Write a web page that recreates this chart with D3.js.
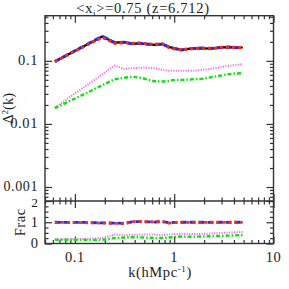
<!DOCTYPE html>
<html><head><meta charset="utf-8">
<script src="https://cdn.jsdelivr.net/npm/d3@7"></script>
<style>body{margin:0;background:#fff}svg{display:block}text{font-family:"Liberation Serif","Times New Roman",serif;fill:#222}</style>
</head><body>
<script>
// wavenumbers k (h/Mpc)
const kVals = [0.0628,0.1257,0.1885,0.2513,0.3142,0.377,0.4398,0.5027,0.628,0.754,0.880,1.005,1.194,1.382,1.634,1.885,2.199,2.576,3.016,3.519,4.084,4.901];
// top panel: Delta^2(k)
const totBlack = [0.0975,0.174,0.243,0.195,0.198,0.186,0.189,0.186,0.179,0.184,0.167,0.158,0.149,0.155,0.158,0.159,0.157,0.159,0.164,0.165,0.163,0.163];
const totBlue  = [0.0975,0.175,0.245,0.194,0.197,0.187,0.190,0.185,0.180,0.185,0.166,0.157,0.148,0.156,0.157,0.160,0.156,0.160,0.163,0.166,0.162,0.163];
const totRed   = [0.0975,0.172,0.236,0.190,0.195,0.190,0.192,0.188,0.182,0.188,0.163,0.155,0.150,0.154,0.159,0.158,0.158,0.158,0.165,0.164,0.164,0.162];
const magenta  = [0.0181,0.0391,0.061,0.0842,0.0746,0.0766,0.0775,0.0783,0.0766,0.072,0.0700,0.0694,0.0694,0.0694,0.0700,0.072,0.0735,0.0766,0.080,0.0833,0.086,0.0886];
const green    = [0.0178,0.030,0.041,0.0512,0.0540,0.0560,0.0545,0.0520,0.0475,0.047,0.048,0.0499,0.050,0.0505,0.0515,0.0518,0.054,0.0563,0.059,0.0615,0.063,0.0638];
// bottom panel: fractions
const fracBlue = [1.0,0.99,0.97,0.96,0.95,1.02,1.03,1.02,1.01,1.03,0.98,0.99,1.0,1.0,1.0,1.0,0.99,1.0,1.0,0.99,1.0,1.0];
const fracRed  = [1.0,0.98,0.96,0.95,0.93,1.03,1.04,1.03,1.02,1.04,0.96,0.98,1.0,0.99,1.0,0.99,1.0,1.0,0.99,1.0,1.0,0.99];
const fracMag  = [0.19,0.22,0.25,0.43,0.38,0.41,0.41,0.42,0.43,0.39,0.42,0.44,0.46,0.45,0.44,0.45,0.46,0.48,0.50,0.51,0.53,0.54];
const fracGrn  = [0.18,0.17,0.17,0.26,0.28,0.30,0.29,0.28,0.26,0.26,0.28,0.30,0.33,0.32,0.32,0.33,0.34,0.35,0.36,0.37,0.38,0.39];
// ticks / labels
const xMajor = [0.1,1,10];
const xLabels = ["0.1","1","10"];
const yTopMajor = [0.001,0.01,0.1];
const yTopLabels = ["0.001","0.01","0.1"];
const yBotMajor = [0,1,2];
const yBotLabels = ["0","1","2"];
const titleMain = "<x", titleSub = "i", titleRest = ">=0.75  (z=6.712)";

const W=289,H=289;
const L=45,R=273.5,T=15.7,M=201,B=243.5;
const svg=d3.select("body").append("svg").attr("width",W).attr("height",H);
const x=d3.scaleLog().domain([0.05,10]).range([L,R]);
const yT=d3.scaleLog().domain([0.0006,0.52]).range([M,T]);
const yB=d3.scaleLinear().domain([0,2]).range([B,M]);

const xMinor=x.ticks().filter(v=>!xMajor.some(m=>Math.abs(m-v)/m<1e-6));
const yTMinor=yT.ticks().filter(v=>!yTopMajor.some(m=>Math.abs(m-v)/m<1e-6));
const yBMinor=d3.range(0,2.0001,0.25).filter(v=>!yBotMajor.includes(v));

const axCol="#333";
function tickAxis(axisFn,scale,vals,size,transform){
  const g=svg.append("g").attr("transform",transform)
   .call(axisFn(scale).tickValues(vals).tickSize(size).tickFormat(""));
  g.select(".domain").remove();
  g.selectAll("line").attr("stroke",axCol).attr("stroke-width",1.2);
  return g;
}
const MJ=7,MN=3.5;
// top panel
tickAxis(d3.axisBottom,x,xMajor,-MJ,`translate(0,${M})`);
tickAxis(d3.axisBottom,x,xMinor,-MN,`translate(0,${M})`);
tickAxis(d3.axisTop,x,xMajor,-MJ,`translate(0,${T})`);
tickAxis(d3.axisTop,x,xMinor,-MN,`translate(0,${T})`);
tickAxis(d3.axisLeft,yT,yTopMajor,-MJ,`translate(${L},0)`);
tickAxis(d3.axisLeft,yT,yTMinor,-MN,`translate(${L},0)`);
tickAxis(d3.axisRight,yT,yTopMajor,-MJ,`translate(${R},0)`);
tickAxis(d3.axisRight,yT,yTMinor,-MN,`translate(${R},0)`);
// bottom panel
tickAxis(d3.axisTop,x,xMajor,-MJ,`translate(0,${M})`);
tickAxis(d3.axisTop,x,xMinor,-MN,`translate(0,${M})`);
tickAxis(d3.axisBottom,x,xMajor,-MJ,`translate(0,${B})`);
tickAxis(d3.axisBottom,x,xMinor,-MN,`translate(0,${B})`);
tickAxis(d3.axisLeft,yB,yBotMajor,-MJ,`translate(${L},0)`);
tickAxis(d3.axisLeft,yB,yBMinor,-MN,`translate(${L},0)`);
tickAxis(d3.axisRight,yB,yBotMajor,-MJ,`translate(${R},0)`);
tickAxis(d3.axisRight,yB,yBMinor,-MN,`translate(${R},0)`);

// frames
svg.append("rect").attr("x",L).attr("y",T).attr("width",R-L).attr("height",B-T)
  .attr("fill","none").attr("stroke",axCol).attr("stroke-width",1.4);
svg.append("line").attr("x1",L).attr("x2",R).attr("y1",M).attr("y2",M)
  .attr("stroke",axCol).attr("stroke-width",1.4);

// labels
const fs=14.5;
yTopMajor.forEach((v,i)=>svg.append("text").attr("x",38).attr("y",yT(v)+(i===0?3.5:4.5))
  .attr("text-anchor","end").attr("font-size",i===0?14:fs).attr("letter-spacing",0.6).text(yTopLabels[i]));
yBotMajor.forEach((v,i)=>svg.append("text").attr("x",38).attr("y",yB(v)+(i===2?5.5:4.5))
  .attr("text-anchor","end").attr("font-size",i===2?13.5:fs).text(yBotLabels[i]));
xMajor.forEach((v,i)=>svg.append("text").attr("x",x(v)).attr("y",262)
  .attr("text-anchor","middle").attr("font-size",fs).attr("letter-spacing",0.6).text(xLabels[i]));

const title=svg.append("text").attr("x",143).attr("y",12.5).attr("text-anchor","middle")
  .attr("font-size",fs).attr("letter-spacing",0.7);
title.append("tspan").text(titleMain);
title.append("tspan").attr("font-size",9).attr("dy",3).text(titleSub);
title.append("tspan").attr("dy",-3).text(titleRest);

const xl=svg.append("text").attr("x",160).attr("y",277).attr("text-anchor","middle")
  .attr("font-size",fs).attr("letter-spacing",0.6);
xl.append("tspan").text("k(hMpc");
xl.append("tspan").attr("font-size",9).attr("dy",-5).text("-1");
xl.append("tspan").attr("dy",5).text(")");

const yl=svg.append("text").attr("transform",`translate(13,${(T+M)/2}) rotate(-90)`)
  .attr("text-anchor","middle").attr("font-size",fs);
yl.append("tspan").text("Δ");
yl.append("tspan").attr("font-size",9).attr("dy",-5).text("2");
yl.append("tspan").attr("dy",5).text("(k)");

svg.append("text").attr("transform",`translate(25,${(M+B)/2}) rotate(-90)`)
  .attr("text-anchor","middle").attr("font-size",fs).attr("letter-spacing",0.6).text("Frac");

// lines
function draw(vals,ys,col,w,dash){
  const line=d3.line().x((d,i)=>x(kVals[i])).y(d=>ys(d));
  svg.append("path").datum(vals).attr("d",line).attr("fill","none")
    .attr("stroke",col).attr("stroke-width",w).attr("stroke-dasharray",dash||null)
    .attr("stroke-linejoin","round");
}
draw(totBlack,yT,"#000",2.2);
draw(totBlue,yT,"#1030ff",3,"6,3");
draw(totRed,yT,"#ff2a10",3,"3,3");
draw(magenta,yT,"#f070f0",2,"1.2,1.3");
draw(green,yT,"#10e010",2.4,"4,2,1.5,2");

draw(fracBlue,yB,"#1030ff",2.8,"6,3");
draw(fracRed,yB,"#ff2a10",2.8,"3,3");
draw(fracMag,yB,"#f070f0",2,"1.2,1.3");
draw(fracGrn,yB,"#10e010",2.4,"4,2,1.5,2");
</script>
</body></html>
